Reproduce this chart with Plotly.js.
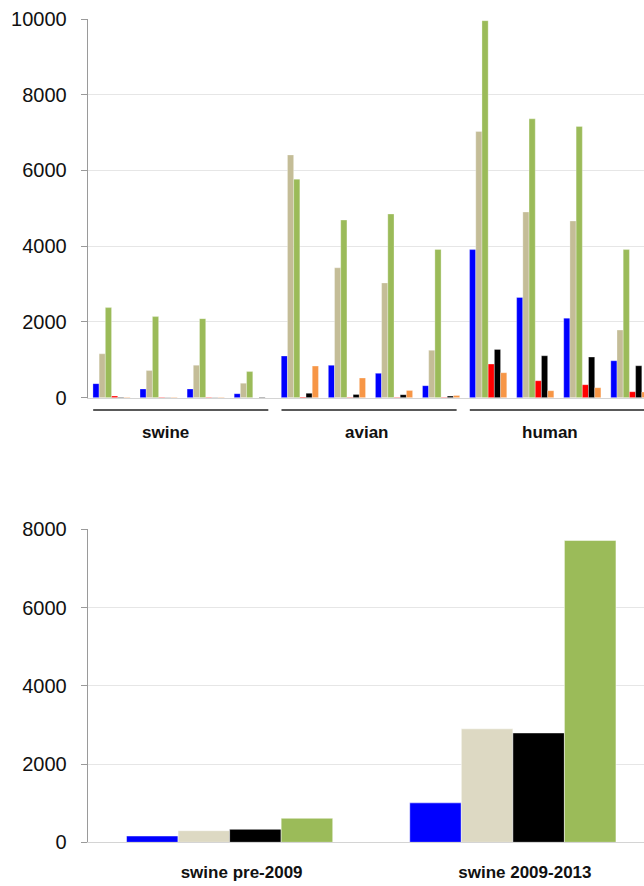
<!DOCTYPE html>
<html>
<head>
<meta charset="utf-8">
<script src="https://cdn.plot.ly/plotly-3.0.1.min.js"></script>
<style>
html,body{margin:0;padding:0;background:#fff;overflow:hidden;}
#chart{width:644px;height:886px;}
</style>
</head>
<body>
<div id="chart"></div>
<script>
// ---- data: top chart ----
const hosts = ['swine', 'avian', 'human'];
const subgroupsPerHost = 4;
const blueVals   = [371, 230, 230, 106, 1100, 855, 643, 317, 3911, 2646, 2100, 975];
const tanVals    = [1159, 716, 859, 382, 6410, 3430, 3030, 1250, 7030, 4903, 4666, 1785];
const greenVals  = [2379, 2141, 2088, 690, 5770, 4690, 4850, 3915, 9955, 7364, 7162, 3911];
const redVals    = [45, 12, 12, 0, 20, 15, 15, 10, 888, 448, 343, 158];
const blackVals  = [15, 8, 8, 15, 115, 87, 80, 42, 1275, 1107, 1073, 843];
const orangeVals = [15, 12, 10, 0, 835, 520, 193, 60, 660, 185, 264, 150];
const topTicks = [0, 2000, 4000, 6000, 8000, 10000];

// ---- data: bottom chart ----
const periods = ['swine pre-2009', 'swine 2009-2013'];
const blueB  = [161, 1008];
const tanB   = [297, 2900];
const blackB = [332, 2795];
const greenB = [614, 7713];
const bottomTicks = [0, 2000, 4000, 6000, 8000];

const xTop = blueVals.map((_, i) => i);
const xBot = periods.map((_, i) => i);

function bar(x, y, color, xa, ya, w) {
  return {type: 'bar', x: x, y: y, xaxis: xa, yaxis: ya, showlegend: false,
    marker: {color: color, line: {color: 'rgba(255,255,255,0.6)', width: w}},
    hoverinfo: 'y'};
}

// bottom chart: explicit bar widths (group occupies 0.728 of each category)
const botGroup = 0.728;
const botSeries = [[blueB, '#0000FF'], [tanB, '#DDD9C3'], [blackB, '#000000'], [greenB, '#9BBB59']];
const botW = botGroup / botSeries.length;

const data = [
  bar(xTop, blueVals,   '#0000FF', 'x', 'y', 0.5),
  bar(xTop, tanVals,    '#C4BD97', 'x', 'y', 0.5),
  bar(xTop, greenVals,  '#9BBB59', 'x', 'y', 0.5),
  bar(xTop, redVals,    '#FF0000', 'x', 'y', 0.5),
  bar(xTop, blackVals,  '#000000', 'x', 'y', 0.5),
  bar(xTop, orangeVals, '#F79646', 'x', 'y', 0.5)
];
botSeries.forEach(([vals, color], k) => {
  const t = bar(xBot, vals, color, 'x2', 'y2', 0.8);
  t.width = botW;
  t.offset = -botGroup / 2 + k * botW;
  data.push(t);
});

const H = 886;
const py = p => 1 - p / H;
const font = {family: 'Liberation Sans, Arial, Helvetica, sans-serif', size: 20, color: '#111'};

const yCommon = {
  showline: true, linecolor: '#9a9a9a', linewidth: 1.3,
  ticks: 'outside', ticklen: 6, tickcolor: '#9a9a9a', tickwidth: 1,
  showgrid: true, gridcolor: '#e6e6e6', gridwidth: 1,
  zeroline: false, tickfont: font, ticklabelstandoff: 10, fixedrange: true
};

// group decorations for the top chart
const labelOffsets = [-0.36, -0.09, -0.19];
const shapes = [];
const annotations = [];
hosts.forEach((h, g) => {
  const s = g * subgroupsPerHost;
  const e = s + subgroupsPerHost - 1;
  shapes.push({type: 'line', xref: 'x', yref: 'paper', x0: s - 0.39, x1: e + 0.33,
    y0: py(410), y1: py(410), line: {color: '#222', width: 1.6}});
  annotations.push({xref: 'x', yref: 'paper', x: (s + e) / 2 + labelOffsets[g], y: py(433),
    text: '<b>' + h + '</b>', showarrow: false, xanchor: 'center', yanchor: 'middle',
    font: {family: font.family, size: 17, color: '#111'}});
});

const layout = {
  width: 644, height: H,
  margin: {l: 88, r: 0, t: 0, b: 0, pad: 0},
  paper_bgcolor: '#fff', plot_bgcolor: '#fff',
  barmode: 'group',
  bargap: 0.21, bargroupgap: 0,
  showlegend: false,
  xaxis: {domain: [0, 1], range: [-0.5, 11.31], showticklabels: false, ticks: '',
    showgrid: false, zeroline: false, showline: true, linecolor: '#d4d4d4', linewidth: 1,
    anchor: 'y', fixedrange: true},
  yaxis: Object.assign({}, yCommon, {domain: [py(397.7), py(19)], range: [0, 10000],
    tickvals: topTicks, ticktext: topTicks.map(String), anchor: 'x'}),
  xaxis2: {domain: [0, 1], range: [-0.5, 1.463], tickvals: xBot, ticktext: periods.map(p => '<b>' + p + '</b>'),
    ticks: '', showgrid: false, zeroline: false, showline: true, linecolor: '#d4d4d4', linewidth: 1,
    tickfont: {family: font.family, size: 17, color: '#111'}, ticklabelstandoff: 14, ticklabelshift: 12,
    anchor: 'y2', fixedrange: true},
  yaxis2: Object.assign({}, yCommon, {domain: [py(842.3), py(529.3)], range: [0, 8000],
    tickvals: bottomTicks, ticktext: bottomTicks.map(String), anchor: 'x2'}),
  shapes: shapes,
  annotations: annotations
};

Plotly.newPlot('chart', data, layout, {displayModeBar: false, staticPlot: true});
</script>
</body>
</html>
